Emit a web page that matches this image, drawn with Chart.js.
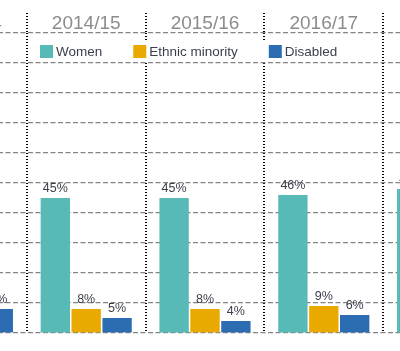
<!DOCTYPE html>
<html>
<head>
<meta charset="utf-8">
<script src="https://cdn.jsdelivr.net/npm/chart.js@4"></script>
<style>
    html, body { margin: 0; padding: 0; background: #fff; overflow: hidden; width: 400px; height: 351px; }
    #wrap { position: absolute; left: -92px; top: 0; width: 594px; height: 351px; }
</style>
</head>
<body>
<div id="wrap"><canvas id="diversityChart"></canvas></div>
<script>
// data (outer years are cut off by the frame)
var years = ['2013/14', '2014/15', '2015/16', '2016/17', '2017/18'];
var women = [44, 45, 45, 46, 48];
var ethnicMinority = [8, 8, 8, 9, 10];
var disabled = [8, 5, 4, 6, 6];
var seriesNames = ['Women', 'Ethnic minority', 'Disabled'];
var seriesColors = ['#58bab6', '#eaa900', '#2b6cb3'];
var yTicks = [0, 10, 20, 30, 40, 50, 60, 70, 80, 90, 100];

var textFont = '"Liberation Sans", Arial, sans-serif';

// percentage labels above each bar
var barLabels = {
    id: 'barLabels',
    afterDatasetsDraw: function(chart){
        var ctx = chart.ctx;
        ctx.save();
        ctx.font = '12.5px ' + textFont;
        ctx.fillStyle = '#3b3f4c';
        ctx.textAlign = 'center';
        ctx.textBaseline = 'bottom';
        chart.data.datasets.forEach(function(ds, i){
            chart.getDatasetMeta(i).data.forEach(function(bar, j){
                ctx.fillText(ds.data[j] + '%', bar.x, bar.y - 3);
            });
        });
        ctx.restore();
    }
};

// legend sitting inside the plot, on a white strip
var insideLegend = {
    id: 'insideLegend',
    afterDatasetsDraw: function(chart, args, opts){
        var ctx = chart.ctx;
        ctx.save();
        ctx.font = '13.5px ' + textFont;
        var x = opts.left;
        var y = opts.top;
        var widths = chart.data.datasets.map(function(ds){ return ctx.measureText(ds.label).width; });
        var total = 0;
        widths.forEach(function(w){ total += 13 + 3 + w + 31; });
        ctx.fillStyle = '#fff';
        ctx.fillRect(x - 6, y - 3, total - 20, 20);
        ctx.textBaseline = 'middle';
        chart.data.datasets.forEach(function(ds, i){
            ctx.fillStyle = ds.backgroundColor;
            ctx.fillRect(x, y, 13, 13);
            ctx.fillStyle = '#3b3f4c';
            ctx.fillText(ds.label, x + 16, y + 7);
            x += 13 + 3 + widths[i] + 31;
        });
        ctx.restore();
    }
};

window.onload = function(){
    var ctx = document.getElementById('diversityChart').getContext('2d');

    var config = {
        type: 'bar',
        data: {
            labels: years,
            datasets: [
                { label: seriesNames[0], data: women, backgroundColor: seriesColors[0] },
                { label: seriesNames[1], data: ethnicMinority, backgroundColor: seriesColors[1] },
                { label: seriesNames[2], data: disabled, backgroundColor: seriesColors[2] }
            ]
        },
        options: {
            responsive: true,
            maintainAspectRatio: false,
            animation: false,
            layout: { padding: { top: 0, bottom: 18, left: 0, right: 0 } },
            datasets: {
                bar: { categoryPercentage: 0.78, barPercentage: 0.95 }
            },
            scales: {
                x: {
                    position: 'top',
                    afterFit: function(scale){ scale.height = 33; },
                    grid: {
                        offset: true,
                        color: '#000',
                        lineWidth: 2,
                        drawTicks: true,
                        tickLength: 20,
                        tickColor: '#000',
                        tickWidth: 2,
                        tickBorderDash: [1, 2]
                    },
                    border: { display: false, dash: [1, 2] },
                    ticks: {
                        color: '#8c8c8c',
                        padding: -22,
                        font: { family: textFont, size: 19 }
                    }
                },
                y: {
                    min: 0,
                    max: 100,
                    afterBuildTicks: function(scale){
                        scale.ticks = yTicks.map(function(v){ return { value: v }; });
                    },
                    afterFit: function(scale){ scale.width = 0; },
                    ticks: { display: false },
                    grid: { color: '#848484', lineWidth: 1.2, drawTicks: false },
                    border: { display: false, dash: [5, 2.5] }
                }
            },
            plugins: {
                legend: { display: false },
                tooltip: { enabled: false },
                insideLegend: { left: 132, top: 45 }
            }
        },
        plugins: [barLabels, insideLegend]
    };

    var diversityChart = new Chart(ctx, config);
};
</script>
</body>
</html>
